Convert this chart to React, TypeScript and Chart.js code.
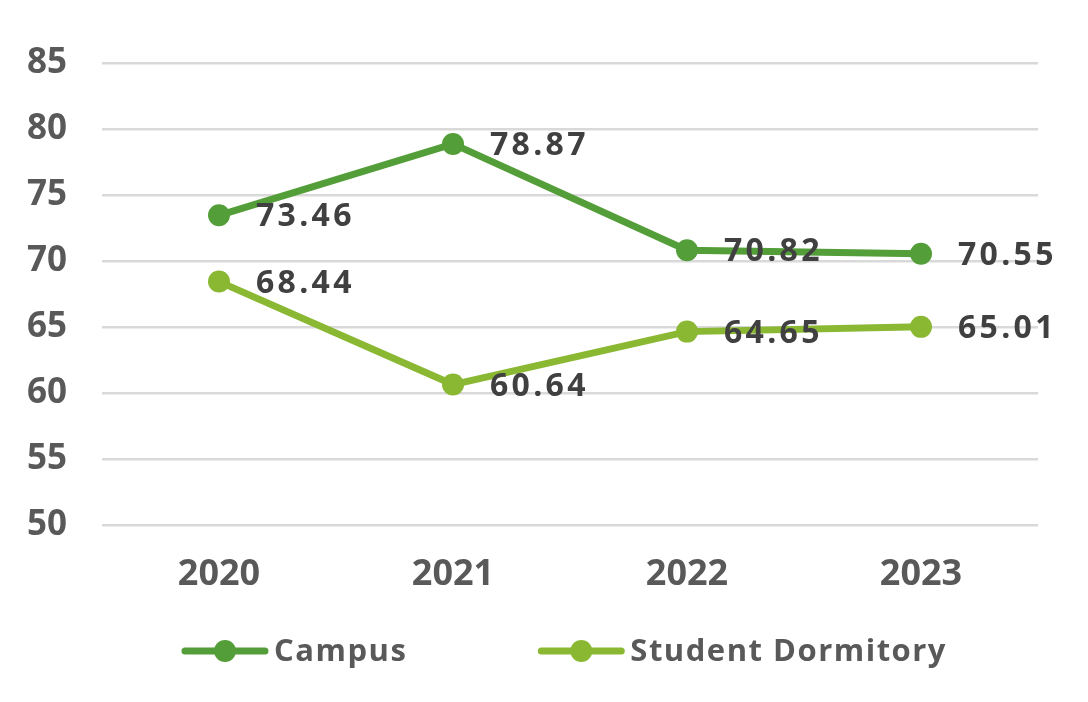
import React, { useEffect, useRef } from "react";
import { Chart, registerables } from "chart.js";

Chart.register(...registerables);

const categories = ["2020", "2021", "2022", "2023"];
const campusValues = [73.46, 78.87, 70.82, 70.55];
const dormValues = [68.44, 60.64, 64.65, 65.01];
const seriesNames = ["Campus", "Student Dormitory"];
const yTicksMin = 50;
const yTicksMax = 85;
const yTickStep = 5;

const COLORS = ["#549E39", "#8AB833"];
const FONT = "'Open Sans', 'DejaVu Sans', sans-serif";

const labelPlugin = {
  id: "valueLabels",
  afterDatasetsDraw(chart: any) {
    const ctx = chart.ctx;
    ctx.save();
    ctx.font = `bold 32px ${FONT}`;
    (ctx as any).letterSpacing = "3.3px";
    ctx.fillStyle = "#404040";
    ctx.textAlign = "left";
    ctx.textBaseline = "middle";
    chart.data.datasets.forEach((ds: any, i: number) => {
      const meta = chart.getDatasetMeta(i);
      meta.data.forEach((pt: any, j: number) => {
        const v = ds.data[j] as number;
        ctx.fillText(v.toFixed(2), pt.x + 37, pt.y + 2);
      });
    });
    ctx.restore();
  },
};

const legendPlugin = {
  id: "customLegend",
  afterDraw(chart: any) {
    const ctx = chart.ctx;
    ctx.save();
    ctx.font = `bold 31px ${FONT}`;
    (ctx as any).letterSpacing = "1.5px";
    const lineLen = 88;
    const textGap = 5;
    const itemGap = 130;
    const y = 651;
    const items = chart.data.datasets.map((ds: any) => ({
      label: ds.label as string,
      color: ds.borderColor as string,
      w: lineLen + textGap + ctx.measureText(ds.label).width,
    }));
    const total = items.reduce((s: number, it: any) => s + it.w, 0) + itemGap * (items.length - 1);
    let x = 564 - total / 2;
    items.forEach((it: any) => {
      ctx.strokeStyle = it.color;
      ctx.lineWidth = 7;
      ctx.lineCap = "round";
      ctx.beginPath();
      ctx.moveTo(x + 4, y);
      ctx.lineTo(x + lineLen - 4, y);
      ctx.stroke();
      ctx.fillStyle = it.color;
      ctx.beginPath();
      ctx.arc(x + lineLen / 2, y, 11, 0, Math.PI * 2);
      ctx.fill();
      ctx.fillStyle = "#595959";
      ctx.textAlign = "left";
      ctx.textBaseline = "middle";
      ctx.fillText(it.label, x + lineLen + textGap, y + 1);
      x += it.w + itemGap;
    });
    ctx.restore();
  },
};

export default function App() {
  const ref = useRef<HTMLCanvasElement | null>(null);
  useEffect(() => {
    if (!ref.current) return;
    const chart = new Chart(ref.current, {
      type: "line",
      data: {
        labels: categories,
        datasets: [
          {
            label: seriesNames[0],
            data: campusValues,
            borderColor: COLORS[0],
            backgroundColor: COLORS[0],
            pointBackgroundColor: COLORS[0],
            borderWidth: 7,
            pointRadius: 11,
            pointBorderWidth: 0,
            tension: 0,
          },
          {
            label: seriesNames[1],
            data: dormValues,
            borderColor: COLORS[1],
            backgroundColor: COLORS[1],
            pointBackgroundColor: COLORS[1],
            borderWidth: 7,
            pointRadius: 11,
            pointBorderWidth: 0,
            tension: 0,
          },
        ],
      },
      options: {
        responsive: false,
        animation: false,
        layout: { padding: { top: 63, right: 50, bottom: 110, left: 0 } },
        plugins: {
          legend: { display: false },
          tooltip: { enabled: false },
        },
        scales: {
          x: {
            type: "category",
            offset: true,
            grid: { display: false },
            border: { display: false },
            ticks: {
              color: "#595959",
              font: { family: FONT, size: 36, weight: "bold" },
              padding: 20,
            },
            afterFit(scale: any) {
              scale.height = 67;
            },
          },
          y: {
            min: yTicksMin,
            max: yTicksMax,
            grid: { color: "#D9D9D9", lineWidth: 2.5, drawTicks: false },
            border: { display: false },
            ticks: {
              stepSize: yTickStep,
              color: "#595959",
              font: { family: FONT, size: 35, weight: "bold" },
              padding: 35,
            },
            afterFit(scale: any) {
              scale.width = 102;
            },
          },
        },
      },
      plugins: [labelPlugin, legendPlugin],
    });
    return () => chart.destroy();
  }, []);
  return (
    <div style={{ position: "absolute", left: 0, top: 0, width: 1088, height: 702, background: "#fff" }}>
      <canvas ref={ref} width={1088} height={702} />
    </div>
  );
}
